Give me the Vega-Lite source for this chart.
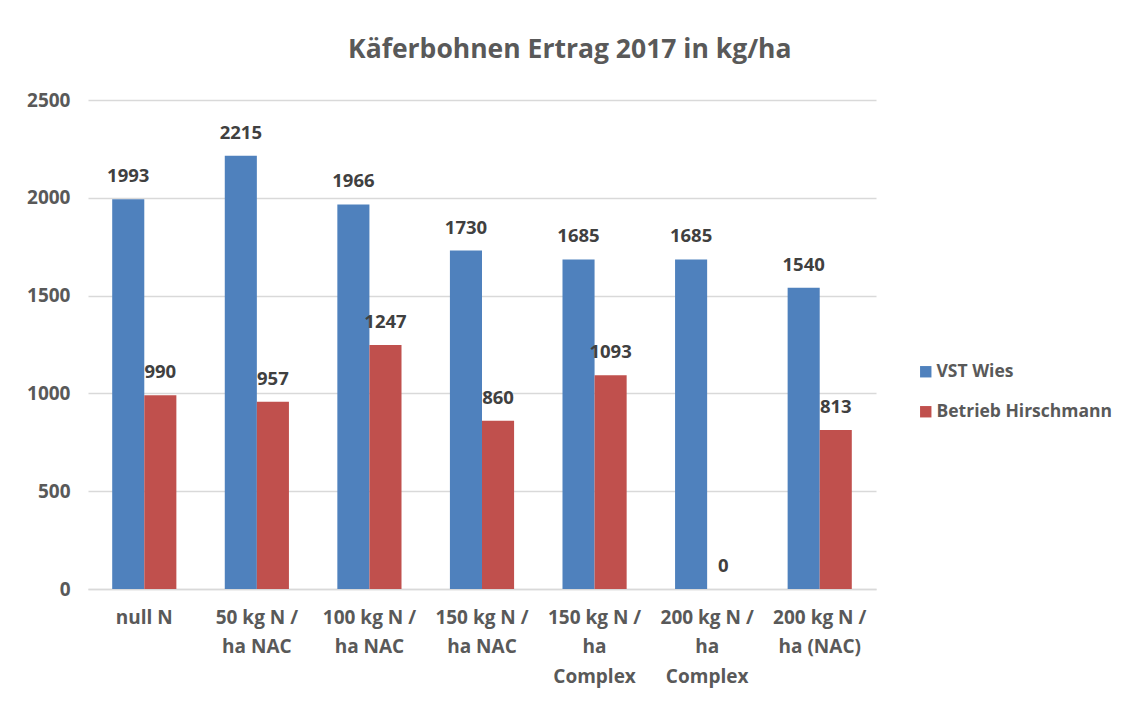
{
  "$schema": "https://vega.github.io/schema/vega-lite/v6.json",
  "width": 788,
  "height": 489,
  "autosize": {"type": "none"},
  "padding": {"left": 88, "top": 100, "right": 246, "bottom": 114},
  "background": "white",
  "config": {"view": {"stroke": null}},
  "title": {
    "text": "Käferbohnen Ertrag 2017 in kg/ha",
    "font": "Open Sans",
    "fontSize": 26.5,
    "fontWeight": "bold",
    "color": "#595959",
    "anchor": "middle",
    "frame": "bounds",
    "offset": 28
  },
  "data": {
    "values": [
      {"kat": "null N", "serie": "VST Wies", "wert": 1993},
      {"kat": "null N", "serie": "Betrieb Hirschmann", "wert": 990},
      {"kat": "50 kg N / ha NAC", "serie": "VST Wies", "wert": 2215},
      {"kat": "50 kg N / ha NAC", "serie": "Betrieb Hirschmann", "wert": 957},
      {"kat": "100 kg N / ha NAC", "serie": "VST Wies", "wert": 1966},
      {"kat": "100 kg N / ha NAC", "serie": "Betrieb Hirschmann", "wert": 1247},
      {"kat": "150 kg N / ha NAC", "serie": "VST Wies", "wert": 1730},
      {"kat": "150 kg N / ha NAC", "serie": "Betrieb Hirschmann", "wert": 860},
      {"kat": "150 kg N / ha Complex", "serie": "VST Wies", "wert": 1685},
      {"kat": "150 kg N / ha Complex", "serie": "Betrieb Hirschmann", "wert": 1093},
      {"kat": "200 kg N / ha Complex", "serie": "VST Wies", "wert": 1685},
      {"kat": "200 kg N / ha Complex", "serie": "Betrieb Hirschmann", "wert": 0},
      {"kat": "200 kg N / ha (NAC)", "serie": "VST Wies", "wert": 1540},
      {"kat": "200 kg N / ha (NAC)", "serie": "Betrieb Hirschmann", "wert": 813}
    ]
  },
  "encoding": {
    "x": {
      "field": "kat",
      "type": "nominal",
      "sort": null,
      "scale": {"paddingInner": 0.43, "paddingOuter": 0.215},
      "axis": {
        "title": null,
        "labelAngle": 0,
        "labelExpr": "datum.label == 'null N' ? 'null N' : datum.label == '50 kg N / ha NAC' ? ['50 kg N /', 'ha NAC'] : datum.label == '100 kg N / ha NAC' ? ['100 kg N /', 'ha NAC'] : datum.label == '150 kg N / ha NAC' ? ['150 kg N /', 'ha NAC'] : datum.label == '150 kg N / ha Complex' ? ['150 kg N /', 'ha', 'Complex'] : datum.label == '200 kg N / ha Complex' ? ['200 kg N /', 'ha', 'Complex'] : ['200 kg N /', 'ha (NAC)']",
        "labelFont": "Open Sans",
        "labelFontSize": 19,
        "labelFontWeight": "bold",
        "labelColor": "#595959",
        "labelLineHeight": 29.5,
        "labelPadding": 19,
        "labelBaseline": "top",
        "ticks": false,
        "domainColor": "#d9d9d9",
        "domainWidth": 1.5,
        "labelLimit": 0
      }
    },
    "xOffset": {"field": "serie", "type": "nominal", "sort": ["VST Wies", "Betrieb Hirschmann"]},
    "y": {
      "field": "wert",
      "type": "quantitative",
      "scale": {"domain": [0, 2500]},
      "axis": {
        "title": null,
        "values": [0, 500, 1000, 1500, 2000, 2500],
        "format": "d",
        "labelFont": "Open Sans",
        "labelFontSize": 19,
        "labelFontWeight": "bold",
        "labelColor": "#595959",
        "labelPadding": 18,
        "ticks": false,
        "domain": false,
        "gridColor": "#d9d9d9",
        "gridWidth": 1.5
      }
    }
  },
  "layer": [
    {
      "mark": {"type": "bar"},
      "encoding": {
        "color": {
          "field": "serie",
          "type": "nominal",
          "scale": {"domain": ["VST Wies", "Betrieb Hirschmann"], "range": ["#4f81bd", "#c0504d"]},
          "legend": {
            "title": null,
            "orient": "none",
            "legendX": 829,
            "legendY": 263,
            "symbolType": "square",
            "symbolSize": 130,
            "symbolStrokeWidth": 0,
            "labelFont": "Open Sans",
            "labelFontSize": 17.5,
            "labelFontWeight": "bold",
            "labelColor": "#595959",
            "rowPadding": 21,
            "labelOffset": 2,
            "labelLimit": 0
          }
        }
      }
    },
    {
      "mark": {
        "type": "text",
        "font": "Open Sans",
        "fontSize": 18.5,
        "fontWeight": "bold",
        "color": "#404040",
        "baseline": "middle",
        "dy": -23
      },
      "encoding": {"text": {"field": "wert", "type": "quantitative", "format": "d"}}
    }
  ]
}
